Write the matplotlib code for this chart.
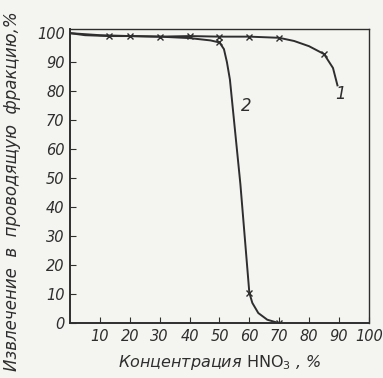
import matplotlib.pyplot as plt

# curve 1 (line shape) and its marked points
c1_x = [0, 5, 13, 20, 30, 40, 50, 60, 70, 75, 80, 85, 88, 89.5]
c1_y = [100, 99.3, 99, 99, 98.8, 99, 98.8, 98.8, 98.4, 97.3, 95.5, 92.8, 88, 82]
c1_mx = [13, 20, 30, 40, 50, 60, 70, 85]
c1_my = [99, 99, 98.8, 99, 98.8, 98.8, 98.4, 92.8]

# curve 2
c2_x = [0, 10, 20, 30, 40, 47, 50, 51.5, 52.5, 53.5, 57, 60, 61, 63, 66, 70]
c2_y = [100, 99.3, 99, 98.8, 98.3, 97.5, 96.8, 94.5, 90, 84, 48, 10.5, 7, 3.5, 1.2, 0]
c2_mx = [50, 60, 70]
c2_my = [96.8, 10.5, 0]

xticks = [10, 20, 30, 40, 50, 60, 70, 80, 90, 100]
yticks = [0, 10, 20, 30, 40, 50, 60, 70, 80, 90, 100]

plt.rcParams['font.family'] = ['DejaVu Sans']
plt.rcParams['font.style'] = 'italic'
plt.rcParams['mathtext.fontset'] = 'custom'
plt.rcParams['mathtext.rm'] = 'DejaVu Sans:style=normal'

fig = plt.figure(figsize=(3.83, 3.78), dpi=100, facecolor='#f4f4f1')
ax = fig.add_axes([0.183, 0.145, 0.78, 0.778])
ax.set_facecolor('#f4f4f1')

col = '#2e2e2e'
ax.plot(c1_x, c1_y, color=col, lw=1.4)
ax.plot(c1_mx, c1_my, 'x', color=col, ms=4.5, mew=1.0)
ax.plot(c2_x, c2_y, color=col, lw=1.4)
ax.plot(c2_mx, c2_my, 'x', color=col, ms=4.5, mew=1.0)

ax.text(90.5, 79, '1', fontsize=12, color=col, ha='center', va='center')
ax.text(59, 75, '2', fontsize=12, color=col, ha='center', va='center')

ax.set_xlim(0, 100)
ax.set_ylim(0, 101.4)
ax.set_xticks(xticks)
ax.set_xticklabels([str(t) for t in xticks])
ax.set_yticks(yticks)
ax.set_yticklabels([str(t) for t in yticks])
ax.tick_params(direction='in', length=4, width=0.8, colors=col, labelsize=10.5)
ax.tick_params(axis='x', pad=4)
ax.tick_params(axis='y', pad=4)
for s in ax.spines.values():
    s.set_color(col)
    s.set_linewidth(1.0)
ax.spines['left'].set_linewidth(1.4)
ax.spines['bottom'].set_linewidth(1.4)

ax.set_xlabel('Концентрация $\\mathrm{HNO_3}$ , %', fontsize=11.5, color=col, labelpad=7)
ax.set_ylabel('Извлечение  в  проводящую  фракцию,%', fontsize=12, color=col)
ax.yaxis.set_label_coords(-0.165, 0.45)

plt.savefig('out.png', dpi=100, facecolor=fig.get_facecolor())
